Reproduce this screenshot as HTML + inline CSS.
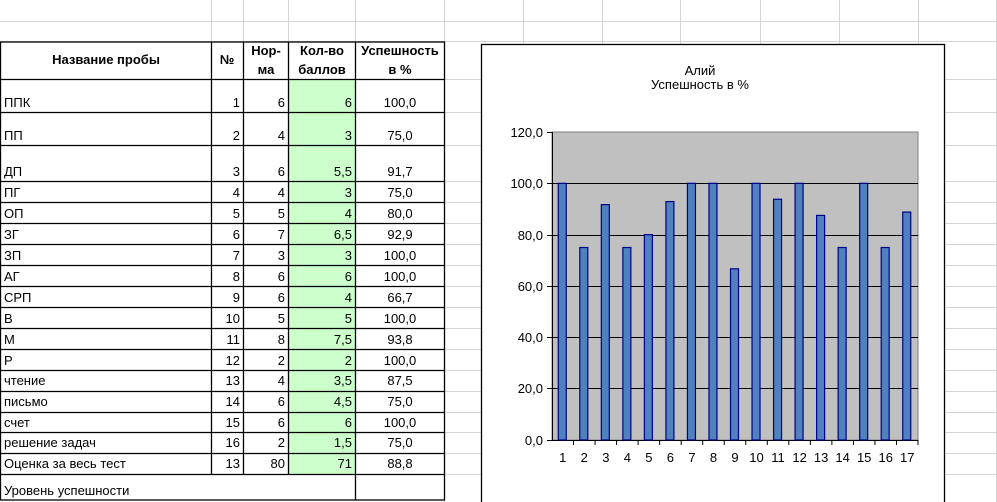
<!DOCTYPE html>
<html><head><meta charset="utf-8"><style>
html,body{margin:0;padding:0;background:#fff}
svg{display:block;font-family:"Liberation Sans",sans-serif}
</style></head><body>
<svg width="997" height="502" viewBox="0 0 997 502" xmlns="http://www.w3.org/2000/svg">
<g stroke="#d4d4d4" stroke-width="1">
<line x1="0" y1="21.5" x2="997" y2="21.5"/>
<line x1="0" y1="41.5" x2="997" y2="41.5"/>
<line x1="444" y1="79.5" x2="997" y2="79.5"/>
<line x1="444" y1="112.5" x2="997" y2="112.5"/>
<line x1="444" y1="145.5" x2="997" y2="145.5"/>
<line x1="444" y1="181.5" x2="997" y2="181.5"/>
<g id="hl"></g>
<line x1="211.5" y1="0" x2="211.5" y2="42"/><line x1="243.5" y1="0" x2="243.5" y2="42"/>
<line x1="288.5" y1="0" x2="288.5" y2="42"/><line x1="355.5" y1="0" x2="355.5" y2="42"/>
<line x1="444.5" y1="0" x2="444.5" y2="502"/>
<line x1="523.5" y1="0" x2="523.5" y2="502"/><line x1="602.5" y1="0" x2="602.5" y2="502"/>
<line x1="680.5" y1="0" x2="680.5" y2="502"/><line x1="760.5" y1="0" x2="760.5" y2="502"/>
<line x1="839.5" y1="0" x2="839.5" y2="502"/><line x1="918.5" y1="0" x2="918.5" y2="502"/>
<line x1="996.5" y1="0" x2="996.5" y2="502"/>
</g>
<g stroke="#d4d4d4">
<line x1="444" y1="202.5" x2="997" y2="202.5"/><line x1="444" y1="223.5" x2="997" y2="223.5"/>
<line x1="444" y1="244.5" x2="997" y2="244.5"/><line x1="444" y1="265.5" x2="997" y2="265.5"/>
<line x1="444" y1="286.5" x2="997" y2="286.5"/><line x1="444" y1="307.5" x2="997" y2="307.5"/>
<line x1="444" y1="328.5" x2="997" y2="328.5"/><line x1="444" y1="349.5" x2="997" y2="349.5"/>
<line x1="444" y1="370.5" x2="997" y2="370.5"/><line x1="444" y1="391.5" x2="997" y2="391.5"/>
<line x1="444" y1="412.5" x2="997" y2="412.5"/><line x1="444" y1="432.5" x2="997" y2="432.5"/>
<line x1="444" y1="453.5" x2="997" y2="453.5"/><line x1="444" y1="474.5" x2="997" y2="474.5"/>
</g>
<!-- green column -->
<rect x="288" y="79" width="67" height="395" fill="#ccffcc"/>
<!-- table borders -->
<g stroke="#000" stroke-width="1.3" fill="none">
<rect x="0.5" y="42" width="444" height="458"/>
<line x1="0" y1="79.5" x2="444" y2="79.5"/><line x1="0" y1="112.5" x2="444" y2="112.5"/>
<line x1="0" y1="145.5" x2="444" y2="145.5"/><line x1="0" y1="181.5" x2="444" y2="181.5"/>
<line x1="0" y1="202.5" x2="444" y2="202.5"/><line x1="0" y1="223.5" x2="444" y2="223.5"/>
<line x1="0" y1="244.5" x2="444" y2="244.5"/><line x1="0" y1="265.5" x2="444" y2="265.5"/>
<line x1="0" y1="286.5" x2="444" y2="286.5"/><line x1="0" y1="307.5" x2="444" y2="307.5"/>
<line x1="0" y1="328.5" x2="444" y2="328.5"/><line x1="0" y1="349.5" x2="444" y2="349.5"/>
<line x1="0" y1="370.5" x2="444" y2="370.5"/><line x1="0" y1="391.5" x2="444" y2="391.5"/>
<line x1="0" y1="412.5" x2="444" y2="412.5"/><line x1="0" y1="432.5" x2="444" y2="432.5"/>
<line x1="0" y1="453.5" x2="444" y2="453.5"/><line x1="0" y1="474.5" x2="444" y2="474.5"/>
<line x1="211.5" y1="42" x2="211.5" y2="474"/><line x1="243.5" y1="42" x2="243.5" y2="474"/>
<line x1="288.5" y1="42" x2="288.5" y2="474"/><line x1="355.5" y1="42" x2="355.5" y2="500"/>
</g>
<g font-size="13" font-weight="bold" text-anchor="middle">
<text x="106" y="64">Название пробы</text>
<text x="227" y="64">№</text>
<text x="266" y="55">Нор-</text><text x="266" y="74">ма</text>
<text x="322" y="55">Кол-во</text><text x="322" y="74">баллов</text>
<text x="400" y="55">Успешность</text><text x="400" y="74">в %</text>
</g>
<g font-size="13">
<g text-anchor="start">
<text x="4" y="107">ППК</text><text x="4" y="140">ПП</text><text x="4" y="176">ДП</text>
<text x="4" y="197">ПГ</text><text x="4" y="218">ОП</text><text x="4" y="239">ЗГ</text>
<text x="4" y="260">ЗП</text><text x="4" y="281">АГ</text><text x="4" y="302">СРП</text>
<text x="4" y="323">В</text><text x="4" y="344">М</text><text x="4" y="365">Р</text>
<text x="4" y="385">чтение</text><text x="4" y="406">письмо</text><text x="4" y="427">счет</text>
<text x="4" y="447">решение задач</text><text x="4" y="468">Оценка за весь тест</text>
<text x="4" y="495">Уровень успешности</text>
</g>
<g text-anchor="end">
<text x="240" y="107">1</text><text x="285" y="107">6</text><text x="352" y="107">6</text>
<text x="240" y="140">2</text><text x="285" y="140">4</text><text x="352" y="140">3</text>
<text x="240" y="176">3</text><text x="285" y="176">6</text><text x="352" y="176">5,5</text>
<text x="240" y="197">4</text><text x="285" y="197">4</text><text x="352" y="197">3</text>
<text x="240" y="218">5</text><text x="285" y="218">5</text><text x="352" y="218">4</text>
<text x="240" y="239">6</text><text x="285" y="239">7</text><text x="352" y="239">6,5</text>
<text x="240" y="260">7</text><text x="285" y="260">3</text><text x="352" y="260">3</text>
<text x="240" y="281">8</text><text x="285" y="281">6</text><text x="352" y="281">6</text>
<text x="240" y="302">9</text><text x="285" y="302">6</text><text x="352" y="302">4</text>
<text x="240" y="323">10</text><text x="285" y="323">5</text><text x="352" y="323">5</text>
<text x="240" y="344">11</text><text x="285" y="344">8</text><text x="352" y="344">7,5</text>
<text x="240" y="365">12</text><text x="285" y="365">2</text><text x="352" y="365">2</text>
<text x="240" y="385">13</text><text x="285" y="385">4</text><text x="352" y="385">3,5</text>
<text x="240" y="406">14</text><text x="285" y="406">6</text><text x="352" y="406">4,5</text>
<text x="240" y="427">15</text><text x="285" y="427">6</text><text x="352" y="427">6</text>
<text x="240" y="447">16</text><text x="285" y="447">2</text><text x="352" y="447">1,5</text>
<text x="240" y="468">13</text><text x="285" y="468">80</text><text x="352" y="468">71</text>
</g>
<g text-anchor="middle">
<text x="400" y="107">100,0</text><text x="400" y="140">75,0</text><text x="400" y="176">91,7</text>
<text x="400" y="197">75,0</text><text x="400" y="218">80,0</text><text x="400" y="239">92,9</text>
<text x="400" y="260">100,0</text><text x="400" y="281">100,0</text><text x="400" y="302">66,7</text>
<text x="400" y="323">100,0</text><text x="400" y="344">93,8</text><text x="400" y="365">100,0</text>
<text x="400" y="385">87,5</text><text x="400" y="406">75,0</text><text x="400" y="427">100,0</text>
<text x="400" y="447">75,0</text><text x="400" y="468">88,8</text>
</g>
</g>
<!-- chart -->
<rect x="481.5" y="44.5" width="463" height="470" fill="#fff" stroke="#000" stroke-width="1.3"/>
<g font-size="13" text-anchor="middle">
<text x="700" y="75">Алий</text><text x="700" y="89">Успешность в %</text>
</g>
<rect x="552" y="132" width="366" height="308" fill="#c0c0c0" stroke="#808080"/>
<g stroke="#000" stroke-width="1">
<line x1="552" y1="183.5" x2="918" y2="183.5"/><line x1="552" y1="235.5" x2="918" y2="235.5"/>
<line x1="552" y1="286.5" x2="918" y2="286.5"/><line x1="552" y1="337.5" x2="918" y2="337.5"/>
<line x1="552" y1="388.5" x2="918" y2="388.5"/>
<line x1="552.5" y1="132" x2="552.5" y2="440"/><line x1="547" y1="440.5" x2="918" y2="440.5"/>
<line x1="547" y1="132.5" x2="552" y2="132.5"/><line x1="547" y1="183.5" x2="552" y2="183.5"/>
<line x1="547" y1="235.5" x2="552" y2="235.5"/><line x1="547" y1="286.5" x2="552" y2="286.5"/>
<line x1="547" y1="337.5" x2="552" y2="337.5"/><line x1="547" y1="388.5" x2="552" y2="388.5"/>
</g>
<g font-size="13" text-anchor="end">
<text x="543" y="137">120,0</text><text x="543" y="188">100,0</text><text x="543" y="240">80,0</text>
<text x="543" y="291">60,0</text><text x="543" y="342">40,0</text><text x="543" y="393">20,0</text>
<text x="543" y="445">0,0</text>
</g>
<g id="bars" fill="#4f81bd" stroke="#00008b" stroke-width="1.2"></g>
<g id="xl" font-size="13" text-anchor="middle"></g>
<script>
var v=[100,75,91.7,75,80,92.9,100,100,66.7,100,93.8,100,87.5,75,100,75,88.8];
var b=document.getElementById('bars'),x=document.getElementById('xl'),ns='http://www.w3.org/2000/svg';
for(var i=0;i<17;i++){var c=552+366/17*(i+0.5);var h=v[i]/120*308;
var r=document.createElementNS(ns,'rect');r.setAttribute('x',c-4.5);r.setAttribute('y',440-h);r.setAttribute('width',8);r.setAttribute('height',h);b.appendChild(r);
var t=document.createElementNS(ns,'text');t.setAttribute('x',c);t.setAttribute('y',462);t.textContent=i+1;x.appendChild(t);
var l=document.createElementNS(ns,'line');l.setAttribute('x1',552+366/17*(i+1));l.setAttribute('x2',552+366/17*(i+1));l.setAttribute('y1',440);l.setAttribute('y2',445);l.setAttribute('stroke','#000');x.appendChild(l);}
</script>
</svg>
</body></html>
